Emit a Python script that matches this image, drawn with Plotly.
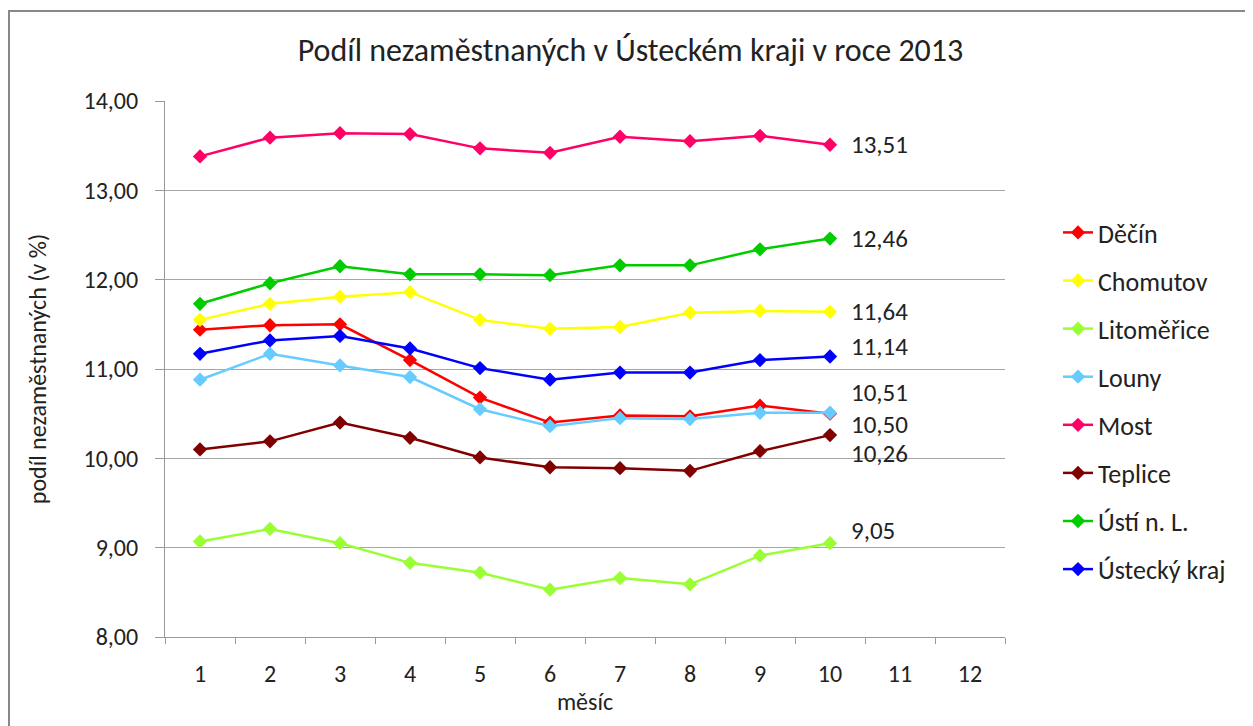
import plotly.graph_objects as go

months = [str(m) for m in range(1, 13)]
data_months = [str(m) for m in range(1, 11)]

series_names = ["Děčín", "Chomutov", "Litoměřice", "Louny", "Most", "Teplice", "Ústí n. L.", "Ústecký kraj"]

decin = [11.44, 11.49, 11.50, 11.10, 10.68, 10.40, 10.48, 10.47, 10.59, 10.50]
chomutov = [11.55, 11.73, 11.81, 11.86, 11.55, 11.45, 11.47, 11.63, 11.65, 11.64]
litomerice = [9.07, 9.21, 9.05, 8.83, 8.72, 8.53, 8.66, 8.59, 8.91, 9.05]
louny = [10.88, 11.17, 11.04, 10.91, 10.55, 10.36, 10.45, 10.44, 10.51, 10.51]
most = [13.38, 13.59, 13.64, 13.63, 13.47, 13.42, 13.60, 13.55, 13.61, 13.51]
teplice = [10.10, 10.19, 10.40, 10.23, 10.01, 9.90, 9.89, 9.86, 10.08, 10.26]
usti = [11.73, 11.96, 12.15, 12.06, 12.06, 12.05, 12.16, 12.16, 12.34, 12.46]
kraj = [11.17, 11.32, 11.37, 11.23, 11.01, 10.88, 10.96, 10.96, 11.10, 11.14]

all_values = [decin, chomutov, litomerice, louny, most, teplice, usti, kraj]
colors = ["#FF0000", "#FFFF00", "#99FF33", "#66CCFF", "#FF0066", "#800000", "#00CC00", "#0000FF"]
# vertical pixel offsets of end labels (as placed in the original)
label_shift = [-11, 0, 13, 20, 0, -18, 0, 10]

FONT = "Carlito, Lato, 'Open Sans', sans-serif"

fig = go.Figure()
for name, vals, col in zip(series_names, all_values, colors):
    fig.add_trace(go.Scatter(
        x=data_months, y=vals, name=name, mode="lines+markers",
        line=dict(color=col, width=2.5),
        marker=dict(symbol="diamond", size=11, color=col),
        legendgroup=name,
    ))

annotations = []
for vals, sh in zip(all_values, label_shift):
    annotations.append(dict(
        x=len(vals) - 1, y=vals[-1], xref="x", yref="y",
        text=f"{vals[-1]:.2f}".replace(".", ","), showarrow=False,
        xanchor="left", yanchor="middle", xshift=20, yshift=sh,
        font=dict(size=25, color="#222222", family=FONT), borderpad=0,
    ))

W, H = 1245, 718
L, R, T, B = 157, 248, 93, 89
plot_w = W - L - R
plot_h = H - T - B

fig.update_layout(
    width=W, height=H,
    paper_bgcolor="white", plot_bgcolor="white",
    margin=dict(l=L, r=R, t=T, b=B),
    font=dict(family=FONT, size=24, color="#222222"),
    separators=", ",
    title=dict(text="Podíl nezaměstnaných v Ústeckém kraji v roce 2013",
               x=0.5, xanchor="center", y=1 - 42 / H, yanchor="middle",
               font=dict(size=32, family=FONT, color="#222222")),
    showlegend=True,
    legend=dict(x=(1058 - 8 - L) / plot_w, y=(H - B - (209 - 8)) / plot_h,
                xanchor="left", yanchor="top",
                font=dict(size=26, family=FONT), tracegroupgap=11.3,
                traceorder="grouped", bgcolor="rgba(0,0,0,0)"),
    annotations=annotations,
    shapes=[dict(type="rect", xref="paper", yref="paper",
                 x0=(1 - L) / plot_w, x1=(W + 60 - L) / plot_w,
                 y0=-(B + 60) / plot_h, y1=(H - B - 3) / plot_h,
                 line=dict(color="#888888", width=2), layer="below")],
)

fig.update_xaxes(
    type="category", categoryorder="array", categoryarray=months,
    range=[-0.5, 11.5], tickson="boundaries", ticks="outside", ticklen=6,
    tickcolor="#999999", showline=True, linecolor="#999999", linewidth=1,
    showgrid=False, tickfont=dict(size=24), ticklabelstandoff=15,
    title=dict(text="měsíc", font=dict(size=24), standoff=6),
)
fig.update_yaxes(
    range=[8, 14], dtick=1, tickformat=".2f", ticks="outside", ticklen=9,
    tickcolor="#999999", showline=True, linecolor="#999999", linewidth=1,
    showgrid=True, gridcolor="#A6A6A6", gridwidth=1, zeroline=False,
    tickfont=dict(size=24), ticklabelstandoff=12,
    title=dict(text="podíl nezaměstnaných (v %)", font=dict(size=24), standoff=30),
)

fig.write_html("out.html")
